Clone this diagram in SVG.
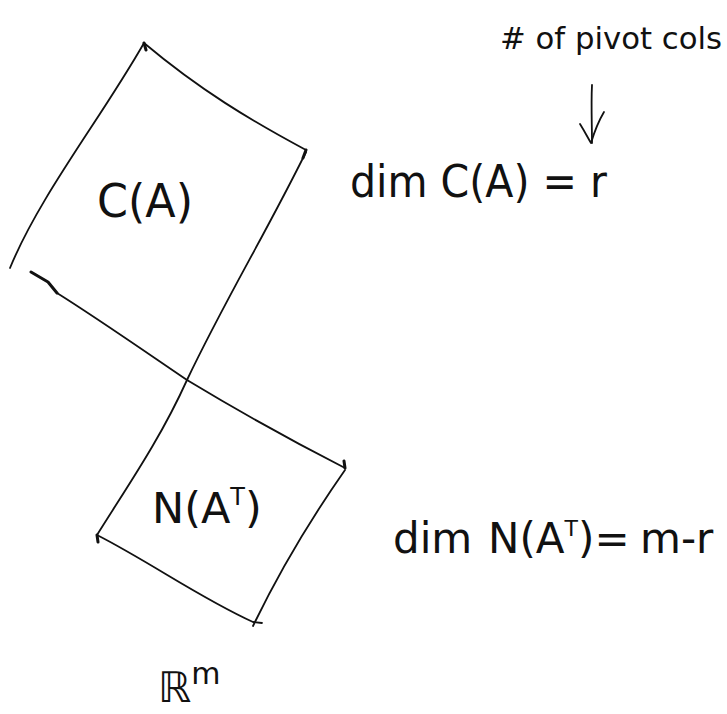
<svg xmlns="http://www.w3.org/2000/svg" width="727" height="714" viewBox="0 0 727 714">
<style>
.ln{fill:none;stroke:#111;stroke-width:1.8;stroke-linecap:round;stroke-linejoin:round}
.tk{fill:none;stroke:#111;stroke-width:3;stroke-linecap:round;stroke-linejoin:round}
.t{font-family:"DejaVu Sans","Liberation Sans",sans-serif;fill:#111}
</style>
<rect width="727" height="714" fill="#fff"/>
<g id="connectors">
<path class="ln" d="M592,85 C591,105 592,125 592,143"/>
<path class="ln" d="M580,124 C585,132 588,138 591,143 C594,133 598,122 604,112"/>
</g>
<g id="colspace">
<path class="ln" d="M10,268 C40,195 100,120 144,43"/>
<path class="ln" d="M144,43 C200,90 250,120 306,150"/>
<path class="tk" d="M144,43 L146,50 M306,150 L303,158 M31,272 L48,282 L57,293"/>
<path class="ln" d="M306,152 C265,235 225,300 187,380 C160,440 125,490 97,535"/>
<path class="ln" d="M57,293 C100,320 150,355 187,380 C240,412 300,445 345,468"/>
<text class="t" x="97" y="217" font-size="46" textLength="96" lengthAdjust="spacingAndGlyphs">C(A)</text>
</g>
<g id="leftnullspace">
<path class="tk" d="M345,468 L344,461 M97,535 L98,542"/>
<path class="ln" d="M97,535 C150,562 200,598 253,622 L262,623"/>
<path class="ln" d="M345,470 C310,520 280,570 253,626"/>
<text class="t" x="152" y="523" font-size="43">N(A<tspan font-size="24" dy="-18">T</tspan><tspan dy="18">)</tspan></text>
</g>
<g id="labels">
<text class="t" x="500" y="49" font-size="30" textLength="222" lengthAdjust="spacingAndGlyphs"># of pivot cols</text>
<text class="t" x="350" y="197" font-size="44" textLength="257" lengthAdjust="spacingAndGlyphs">dim C(A) = r</text>
<text class="t" x="393" y="553" font-size="42"><tspan>dim</tspan><tspan x="488">N(A</tspan><tspan font-size="22" dy="-17">T</tspan><tspan dy="17">)=</tspan><tspan x="640">m-r</tspan></text>
<text class="t" x="158" y="702" font-size="42">ℝ<tspan font-size="30" dy="-18">m</tspan></text>
</g>
</svg>
